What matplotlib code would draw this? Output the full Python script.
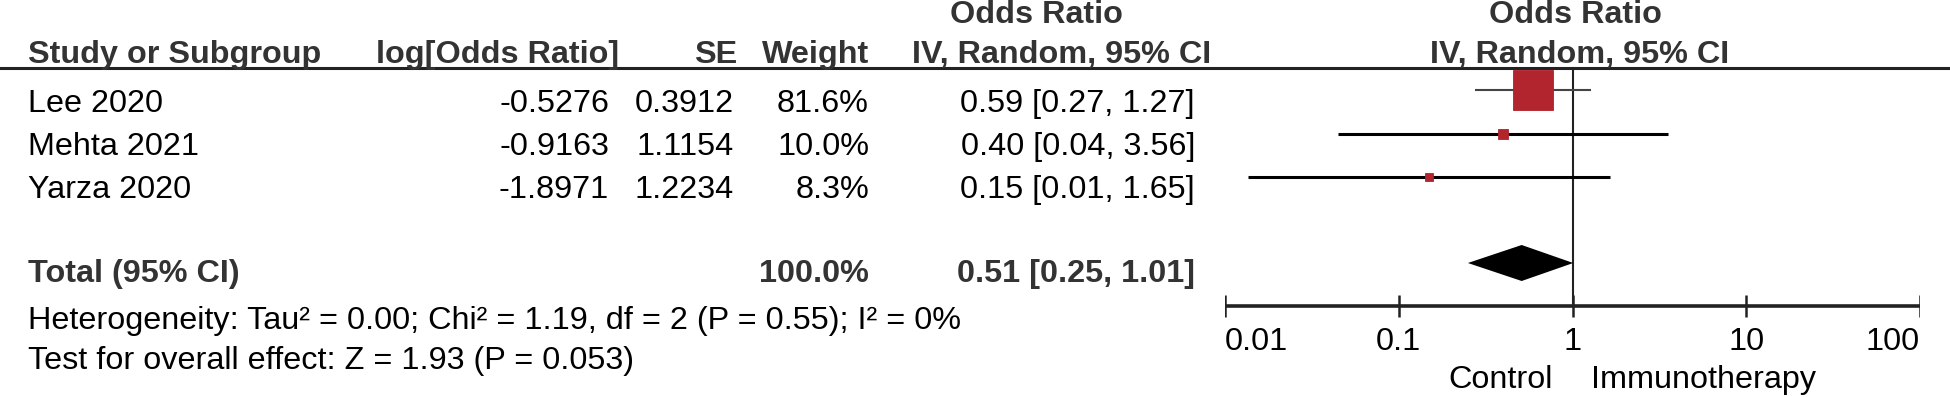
import matplotlib
matplotlib.use("Agg")
import matplotlib.pyplot as plt
import numpy as np

plt.rcParams['font.family'] = ['Liberation Sans', 'DejaVu Sans']

# data
studies = ["Lee 2020", "Mehta 2021", "Yarza 2020"]
log_or = [-0.5276, -0.9163, -1.8971]
se = [0.3912, 1.1154, 1.2234]
weights = [81.6, 10.0, 8.3]
or_text = ["0.59 [0.27, 1.27]", "0.40 [0.04, 3.56]", "0.15 [0.01, 1.65]"]

total_or = 0.51
total_lo = 0.25
total_hi = 1.01
total_text = "0.51 [0.25, 1.01]"
total_weight = "100.0%"
het_text = "Heterogeneity: Tau² = 0.00; Chi² = 1.19, df = 2 (P = 0.55); I² = 0%"
test_text = "Test for overall effect: Z = 1.93 (P = 0.053)"

tick_vals = [0.01, 0.1, 1, 10, 100]
tick_labels = ["0.01", "0.1", "1", "10", "100"]

# layout (pixels from top, figure is 1950 x 397)
W, H = 1950, 397
row_y = [90, 134, 177]        # marks
row_base = [112, 155, 198]    # text baselines
total_y = 263
total_base = 282
axis_y = 306
fs = 23.3
hdr_col = "#333333"
red = "#B2242E"

fig = plt.figure(figsize=(W / 100, H / 100), dpi=100)
tx = fig.add_axes([0, 0, 1, 1])
tx.set_xlim(0, W)
tx.set_ylim(H, 0)
tx.axis("off")

fa = fig.add_axes([1225 / W, 0, (1920 - 1225) / W, 1])
fa.set_xscale("log")
fa.set_xlim(0.01, 100)
fa.set_ylim(H, 0)
fa.axis("off")

# header
tx.axhline(68, color="#222222", lw=2.2)
tx.text(1036, 23, "Odds Ratio", ha="center", va="baseline", fontsize=fs, fontweight="bold", color=hdr_col)
tx.text(1575, 23, "Odds Ratio", ha="center", va="baseline", fontsize=fs, fontweight="bold", color=hdr_col)
tx.text(28, 63, "Study or Subgroup", ha="left", va="baseline", fontsize=fs, fontweight="bold", color=hdr_col)
tx.text(619, 63, "log[Odds Ratio]", ha="right", va="baseline", fontsize=fs, fontweight="bold", color=hdr_col)
tx.text(737, 63, "SE", ha="right", va="baseline", fontsize=fs, fontweight="bold", color=hdr_col)
tx.text(869, 63, "Weight", ha="right", va="baseline", fontsize=fs, fontweight="bold", color=hdr_col)
tx.text(1062, 63, "IV, Random, 95% CI", ha="center", va="baseline", fontsize=fs, fontweight="bold", color=hdr_col)
tx.text(1580, 63, "IV, Random, 95% CI", ha="center", va="baseline", fontsize=fs, fontweight="bold", color=hdr_col)

# study rows
for i in range(len(studies)):
    b = row_base[i]
    tx.text(28, b, studies[i], ha="left", va="baseline", fontsize=fs)
    tx.text(609, b, "%.4f" % log_or[i], ha="right", va="baseline", fontsize=fs)
    tx.text(734, b, "%.4f" % se[i], ha="right", va="baseline", fontsize=fs)
    tx.text(869, b, "%.1f%%" % weights[i], ha="right", va="baseline", fontsize=fs)
    tx.text(1195, b, or_text[i], ha="right", va="baseline", fontsize=fs)

    est = np.exp(log_or[i])
    lo = np.exp(log_or[i] - 1.96 * se[i])
    hi = np.exp(log_or[i] + 1.96 * se[i])
    ci_col = "#444444" if i == 0 else "black"
    ci_lw = 1.5 if i == 0 else 2.2
    fa.plot([lo, hi], [row_y[i], row_y[i]], color=ci_col, lw=ci_lw, solid_capstyle="butt", zorder=2)
    side = 40 * (weights[i] / max(weights)) ** 0.66
    fa.plot([est], [row_y[i]], marker="s", ms=side * 0.72, color=red, mec="#B0202A", mew=0.6, zorder=3)

# total row
tx.text(28, total_base, "Total (95% CI)", ha="left", va="baseline", fontsize=fs, fontweight="bold", color=hdr_col)
tx.text(869, total_base, total_weight, ha="right", va="baseline", fontsize=fs, fontweight="bold", color=hdr_col)
tx.text(1195, total_base, total_text, ha="right", va="baseline", fontsize=fs, fontweight="bold", color=hdr_col)
fa.fill([total_lo, total_or, total_hi, total_or],
        [total_y, total_y - 18, total_y, total_y + 18], color="black", lw=0, zorder=3)

tx.text(28, 329, het_text, ha="left", va="baseline", fontsize=fs)
tx.text(28, 369, test_text, ha="left", va="baseline", fontsize=fs)

# null line and axis
fa.plot([1, 1], [68, axis_y], color="#222222", lw=1.5, zorder=1)
fa.plot([0.01, 100], [axis_y, axis_y], color="#222222", lw=2.6, solid_capstyle="butt")
fa.vlines(tick_vals, axis_y - 11, axis_y + 11, color="#222222", lw=1.8)
aligns = ["left", "center", "center", "center", "right"]
for v, lab, ha in zip(tick_vals, tick_labels, aligns):
    fa.text(v, 350, lab, ha=ha, va="baseline", fontsize=fs)
fa.annotate("Control", (1, 388), xytext=(-14.4, 0), textcoords="offset points",
            ha="right", va="baseline", fontsize=fs, annotation_clip=False)
fa.annotate("Immunotherapy", (1, 388), xytext=(13, 0), textcoords="offset points",
            ha="left", va="baseline", fontsize=fs, annotation_clip=False)

fig.savefig("out.png", dpi=100)
